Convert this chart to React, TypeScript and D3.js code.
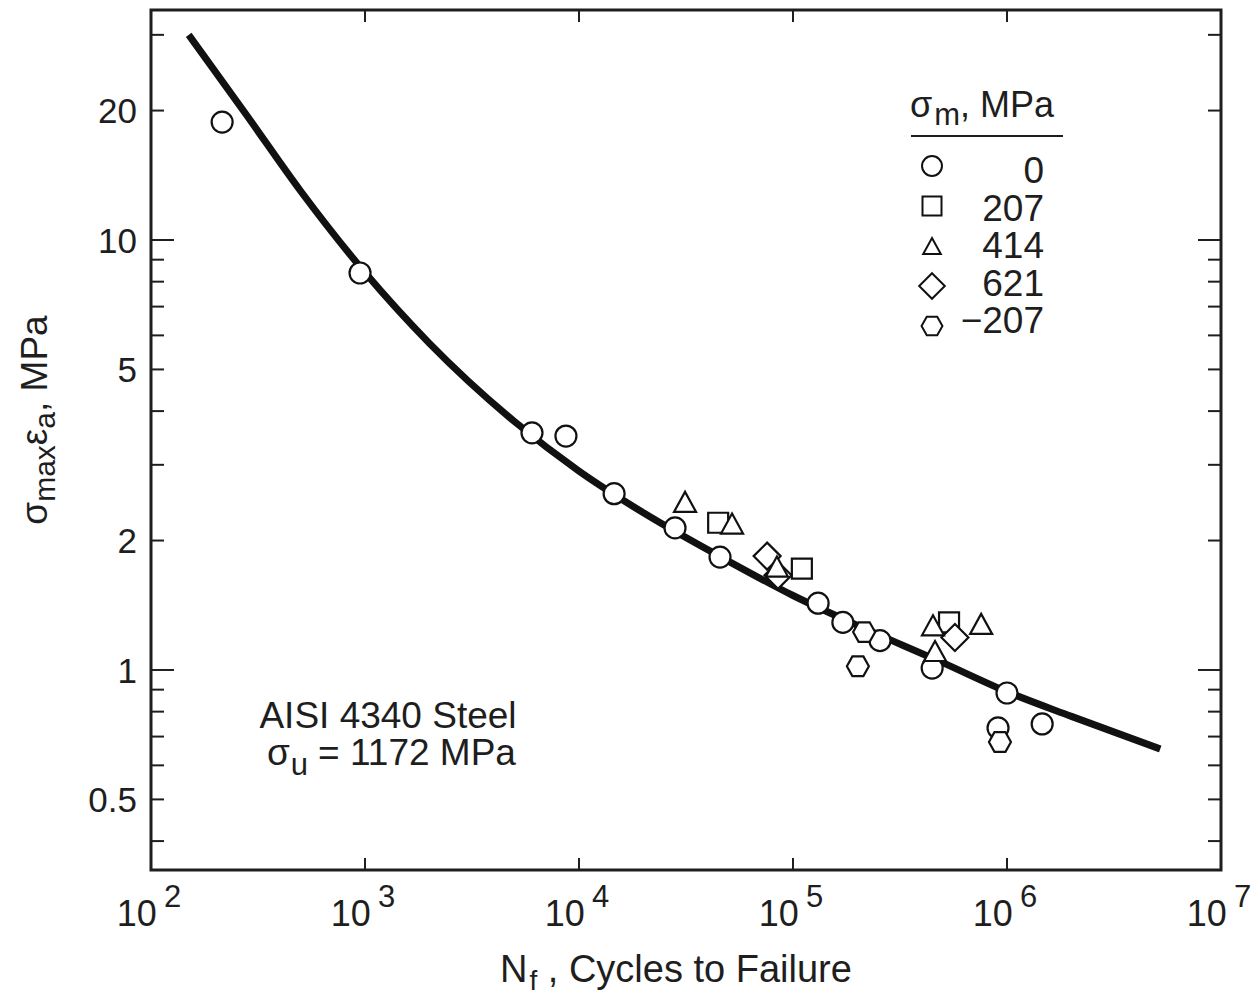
import React from "react";
import * as d3 from "d3";

// ---- data ----
const curveN = [150, 280, 500, 1000, 2000, 5000, 1e4, 2e4, 5e4, 1e5, 2e5, 5e5, 1e6, 2e6, 5.2e6];
const curveS = [30, 19.5, 13.0, 8.4, 5.75, 3.78, 2.9, 2.32, 1.79, 1.49, 1.27, 1.04, 0.89, 0.78, 0.655];

const sm0N = [215, 948, 6030, 8690, 14590, 28100, 45600, 1.31e5, 1.71e5, 2.55e5, 4.47e5, 1.0e6, 9.08e5, 1.46e6];
const sm0S = [18.8, 8.38, 3.56, 3.5, 2.57, 2.14, 1.83, 1.43, 1.29, 1.17, 1.01, 0.884, 0.733, 0.749];

const sm207N = [44700, 1.1e5, 5.36e5];
const sm207S = [2.2, 1.72, 1.29];

const sm414N = [31300, 51900, 84100, 4.51e5, 4.61e5, 7.57e5];
const sm414S = [2.46, 2.19, 1.74, 1.27, 1.107, 1.28];

const sm621N = [75700, 85100, 5.71e5];
const sm621S = [1.84, 1.66, 1.19];

const smNeg207N = [2.01e5, 2.15e5, 9.27e5];
const smNeg207S = [1.02, 1.225, 0.68];

const legendLabels = ["0", "207", "414", "621", "\u2212207"];
const legendShapes = ["circle", "square", "triangle", "diamond", "hexagon"];

const xTickExps = [2, 3, 4, 5, 6, 7];
const yTickLabels = [0.5, 1, 2, 5, 10, 20];
const yMinorTicks = [0.4, 0.5, 0.6, 0.7, 0.8, 0.9, 2, 3, 4, 5, 6, 7, 8, 9, 20, 30];
const yMajorTicks = [1, 10];

const yDomain = [0.3426, 34.27];
const xDomain = [1e2, 1e7];

const FONT = "'Liberation Sans', Arial, Helvetica, sans-serif";

// ---- layout ----
const W = 1258, H = 997;
const L = 151, R = 1221, T = 10, B = 870;

function shapePath(shape: string, k = 1): string {
  switch (shape) {
    case "circle": {
      const r = 10.5 * k;
      return `M${-r},0A${r},${r} 0 1,0 ${r},0A${r},${r} 0 1,0 ${-r},0Z`;
    }
    case "square": {
      const h = 10 * k;
      return `M${-h},${-h}H${h}V${h}H${-h}Z`;
    }
    case "triangle": {
      const w = 11 * k, h = 10 * k;
      return `M0,${-h}L${w},${h}L${-w},${h}Z`;
    }
    case "diamond": {
      const h = 13.5 * k;
      return `M0,${-h}L${h},0L0,${h}L${-h},0Z`;
    }
    case "hexagon": {
      const w = 11 * k, hw = 5.5 * k, h = 9.8 * k;
      return `M${-w},0L${-hw},${-h}L${hw},${-h}L${w},0L${hw},${h}L${-hw},${h}Z`;
    }
  }
  return "";
}

export default function App() {
  const x = d3.scaleLog().domain(xDomain).range([L, R]);
  const y = d3.scaleLog().domain(yDomain).range([B, T]);

  const curvePts = curveN.map((n, i) => [n, curveS[i]] as [number, number]);
  const line = d3
    .line<[number, number]>()
    .x((d) => x(d[0]))
    .y((d) => y(d[1]))
    .curve(d3.curveMonotoneX);

  const series: { shape: string; n: number[]; s: number[] }[] = [
    { shape: "circle", n: sm0N, s: sm0S },
    { shape: "hexagon", n: smNeg207N, s: smNeg207S },
    { shape: "square", n: sm207N, s: sm207S },
    { shape: "diamond", n: sm621N, s: sm621S },
    { shape: "triangle", n: sm414N, s: sm414S },
  ];

  const tickStroke = 2;
  const ink = "#1e1e1e";

  return (
    <svg
      width={W}
      height={H}
      style={{ position: "absolute", left: 0, top: 0, background: "#fff" }}
      fontFamily={FONT}
    >
      <rect x={0} y={0} width={W} height={H} fill="#fff" />

      {/* y ticks (left and right, inward) */}
      {yMinorTicks.map((v) => (
        <g key={"ym" + v}>
          <line x1={L} x2={L + 13} y1={y(v)} y2={y(v)} stroke={ink} strokeWidth={tickStroke} />
          <line x1={R} x2={R - 13} y1={y(v)} y2={y(v)} stroke={ink} strokeWidth={tickStroke} />
        </g>
      ))}
      {yMajorTicks.map((v) => (
        <g key={"yM" + v}>
          <line x1={L} x2={L + 23} y1={y(v)} y2={y(v)} stroke={ink} strokeWidth={tickStroke} />
          <line x1={R} x2={R - 23} y1={y(v)} y2={y(v)} stroke={ink} strokeWidth={tickStroke} />
        </g>
      ))}
      {/* x ticks (top and bottom, inward) */}
      {xTickExps.map((e) => (
        <g key={"xt" + e}>
          <line x1={x(10 ** e)} x2={x(10 ** e)} y1={B} y2={B - 12} stroke={ink} strokeWidth={tickStroke} />
          <line x1={x(10 ** e)} x2={x(10 ** e)} y1={T} y2={T + 12} stroke={ink} strokeWidth={tickStroke} />
        </g>
      ))}

      {/* frame */}
      <rect x={L} y={T} width={R - L} height={B - T} fill="none" stroke={ink} strokeWidth={3} />

      {/* y tick labels */}
      {yTickLabels.map((v) => (
        <text
          key={"yl" + v}
          x={137}
          y={y(v)}
          dy="0.36em"
          textAnchor="end"
          fontSize={35}
          fill={ink}
        >
          {String(v)}
        </text>
      ))}

      {/* x tick labels */}
      {xTickExps.map((e) => (
        <text
          key={"xl" + e}
          x={x(10 ** e) - 2}
          y={926}
          textAnchor="middle"
          fontSize={36}
          fill={ink}
        >
          10
          <tspan dx={7} dy={-19} fontSize={31}>
            {String(e)}
          </tspan>
        </text>
      ))}

      {/* fitted curve */}
      <path d={line(curvePts) || ""} fill="none" stroke="#111" strokeWidth={7} />

      {/* data markers */}
      {series.map((sr) =>
        sr.n.map((n, i) => (
          <path
            key={sr.shape + i}
            d={shapePath(sr.shape)}
            transform={`translate(${x(n)},${y(sr.s[i])})`}
            fill="#fff"
            stroke="#111"
            strokeWidth={2.2}
          />
        ))
      )}

      {/* legend */}
      <text x={910} y={117} fontSize={36} fill={ink}>
        σ
        <tspan fontSize={31} dy={8} dx={2}>m</tspan>
        <tspan dy={-8}>, MPa</tspan>
      </text>
      <line x1={911} x2={1063} y1={136} y2={136} stroke={ink} strokeWidth={2} />
      {legendShapes.map((sh, i) => (
        <g key={"lg" + sh}>
          <path
            d={shapePath(sh, sh === "triangle" ? 0.8 : 0.95)}
            transform={`translate(932,${166 + i * 40})`}
            fill="#fff"
            stroke="#111"
            strokeWidth={2}
          />
          <text x={1044} y={183 + i * 37.5} textAnchor="end" fontSize={37} fill={ink}>
            {legendLabels[i]}
          </text>
        </g>
      ))}

      {/* annotation */}
      <text x={388} y={728} textAnchor="middle" fontSize={37} fill={ink}>
        AISI 4340 Steel
      </text>
      <text x={267} y={765} fontSize={37} fill={ink}>
        σ
        <tspan fontSize={31} dy={10} dx={1}>u</tspan>
        <tspan dy={-10} dx={10}>{"= 1172 MPa"}</tspan>
      </text>

      {/* axis titles */}
      <text x={500} y={982} fontSize={38} fill={ink}>
        N
        <tspan fontSize={28} dy={8} dx={2}>f</tspan>
        <tspan dy={-8}>{" , Cycles to Failure"}</tspan>
      </text>
      <text transform="translate(47,420) rotate(-90)" textAnchor="middle" fontSize={37} fill={ink}>
        σ
        <tspan fontSize={30} dy={8}>max</tspan>
        <tspan dy={-8}>ε</tspan>
        <tspan fontSize={30} dy={8}>a</tspan>
        <tspan dy={-8}>, MPa</tspan>
      </text>
    </svg>
  );
}
